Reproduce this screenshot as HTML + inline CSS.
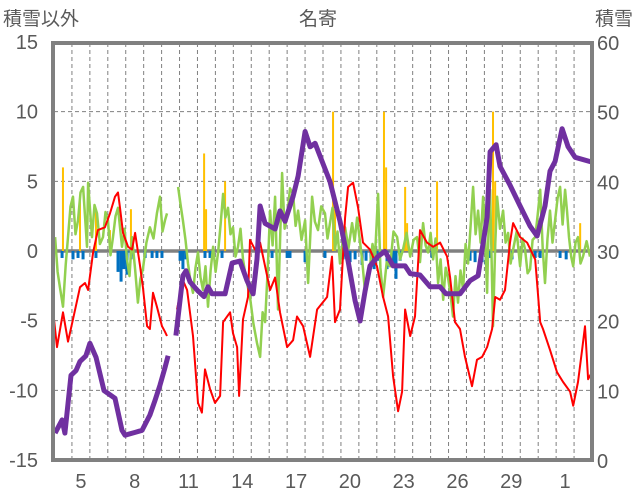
<!DOCTYPE html>
<html><head><meta charset="utf-8"><style>
body{margin:0;background:#fff;}
svg{display:block;font-family:"Liberation Sans","Noto Sans CJK JP",sans-serif;}
</style></head><body>
<svg id="c" width="636" height="501"></svg>
<script>
const tempT=[0,0.17,0.5,0.78,1.06,1.45,1.73,1.9,2.18,2.45,2.84,3.12,3.4,3.57,3.68,3.85,4.13,4.35,4.52,4.8,4.96,5.19,5.35,5.52,5.74,6.02,6.19,6.3,null,6.86,7.19,7.42,7.75,8.03,8.25,8.42,8.7,8.98,9.26,9.43,9.82,9.98,10.21,10.32,10.54,10.82,10.93,11.21,11.49,12.05,12.33,12.6,13,13.33,13.55,13.89,14.28,14.67,15.23,15.5,15.67,15.95,16.23,16.4,16.68,16.96,17.23,17.62,18.01,18.35,18.63,18.91,19.19,19.41,19.58,19.86,20.13,20.41,20.8,21.14,21.53,21.92,22.09,22.36,22.64,22.92,23.31,23.59,23.87,24.15,24.43,24.6,24.87,25.15,25.43,25.6,25.99,26.38,26.83,27.11,27.27,27.66,28.05,28.39,28.78,28.95,29.22,29.45,29.61,29.78,30];
const tempV=[-4.9,-6.9,-4.4,-6.5,-4.9,-2.6,-2.3,-2.8,-0.1,1.5,1.7,2.7,3.9,4.2,3.1,1.3,0.3,0.1,1.3,-1.1,-2.6,-5.4,-5.6,-3,-4,-5.4,-5.8,-6.1,null,-4.2,-2.1,-2.8,-6.1,-10.9,-11.6,-8.5,-9.9,-10.9,-10.4,-5.1,-4.4,-5.9,-6.9,-10.4,-4.9,-3.3,0.8,0.1,0.6,-2.8,-1.9,-4.4,-6.9,-6.4,-4.7,-5.4,-7.6,-4.2,-3.3,-0.4,-5.1,-4.2,2.4,4.6,4.9,3.1,0.6,0.1,-1.1,-3.3,-4.7,-9,-11.5,-10.1,-4.2,-6.1,-4.7,1.5,0.6,0.3,0.6,-0.4,-1.9,-5.1,-5.6,-7.6,-9.7,-7.8,-7.6,-6.9,-5.6,-3.3,-3.5,-2.8,0.6,2,1,0.6,-0.6,-5.1,-5.6,-7.1,-8.7,-9.4,-10.1,-11.1,-9.4,-7.1,-5.4,-9.2,-8.7];
const windT=[0.06,0.2,0.33,0.5,0.65,0.78,0.92,1.06,1.2,1.34,1.48,1.62,1.84,1.9,2.12,2.26,2.4,2.56,2.73,2.87,3.01,3.15,3.29,3.43,3.57,3.79,3.93,4.07,4.21,4.35,4.52,4.68,4.82,4.96,5.15,5.35,5.55,5.74,5.91,6.05,6.19,6.3,null,6.92,7.05,7.19,7.33,7.47,7.61,7.75,7.89,8.03,8.17,8.31,8.45,8.59,8.73,8.87,9.01,9.15,9.29,9.43,9.56,9.7,9.84,9.98,10.12,10.26,10.4,10.54,10.73,10.93,11.12,11.32,11.49,11.63,11.77,11.91,12.05,12.19,12.33,12.49,12.72,12.86,13,13.16,13.33,13.47,13.61,13.8,14,14.17,14.39,14.55,14.72,14.9,15.11,15.25,15.39,15.53,15.67,15.81,15.95,16.09,16.23,16.42,16.62,16.76,16.9,17.04,17.18,17.35,17.48,17.62,17.76,17.9,18.07,18.2,18.35,18.55,18.74,18.93,19.13,19.3,19.46,19.66,19.86,20.05,20.24,20.41,20.58,20.72,20.86,21,21.14,21.28,21.42,21.56,21.7,21.84,21.97,22.11,22.25,22.39,22.53,22.67,22.81,22.95,23.09,23.23,23.37,23.51,23.65,23.79,23.93,24.04,24.15,24.24,24.32,24.4,24.48,24.6,24.71,24.87,25.04,25.18,25.32,25.46,25.6,25.8,25.99,26.13,26.27,26.41,26.55,26.69,26.83,26.97,27.11,27.25,27.38,27.52,27.66,27.8,27.94,28.08,28.22,28.36,28.5,28.61,28.72,28.84,28.95,29.08,29.22,29.36,29.5,29.7,29.89];
const windV=[1,-1.5,-2.6,-4,-1,1,3.2,3.9,1.2,2.2,4.2,4.6,0.3,4.9,1,3.3,2.7,0.5,1,2.8,2.2,-0.3,1,2.5,3.1,0.3,1.6,-0.6,-1.8,1,-1.3,-3.7,-2,-1.3,0.6,1.7,0.9,2.7,3.9,1.4,2.2,2.7,null,4.6,3.4,2.2,0.8,-0.9,-2.2,-3,-1.2,-0.1,-1.9,-2.8,-1.1,-4,-1.4,0.3,-1.5,-0.1,1.9,4.1,2.4,3.1,1.2,1.7,-0.4,0.3,1.6,-0.6,-2.1,-3.3,-5.2,-6.6,-7.6,-4.4,-5.1,-1.5,2.9,0.4,3.9,-4.2,5.6,1.6,2.4,4.5,4.1,1.8,2.9,0.8,2.2,-2.3,3.9,2.1,1.5,3.2,2.7,0.9,2,3.1,0.1,1.4,-0.9,0.6,1.7,0.2,2,0.7,2.4,0.9,-0.6,-3,-1.6,-1.1,0.5,-0.4,4.1,-1.2,-3.3,-0.8,-1.1,1.4,1,-0.6,0.1,1.3,-0.4,0.8,1,-0.8,2,0.4,-0.1,1.3,-0.6,0.9,-2.3,-0.6,-3.5,-1.2,-1.9,-3.1,-4.7,-1.8,-3.7,-1.4,-2.8,0.5,-0.9,1.8,4.6,1.2,2.9,0.6,3.9,1.1,-3,2.1,4.4,-0.6,-5.4,0.4,3.9,1.6,2.9,0.6,1.3,-0.9,0.1,1.4,-1.1,0.9,0.1,-1.6,-1.3,0.8,1,2.6,4.4,0.2,-2.3,0.9,2.9,0.6,2.2,3.8,4.6,1.9,4.4,2.8,1,-0.4,-1.1,0.6,1,-0.9,-0.4,0.7,-0.4];
const snowT=[0.06,0.45,0.61,0.95,1.23,1.45,1.78,2.0,2.34,2.79,3.4,3.79,3.96,4.52,4.91,5.35,5.63,5.91,6.19,6.36,null,6.8,7.19,7.36,7.59,8.03,8.37,8.59,8.81,9.54,9.93,10.37,10.76,11.1,11.32,11.49,11.77,12.33,12.6,12.88,13.33,13.61,14.0,14.28,14.56,14.95,15.39,15.95,16.4,16.79,17.07,17.35,17.62,18.07,18.46,18.91,19.58,19.86,20.41,20.97,21.53,21.86,22.64,23.2,23.65,24.15,24.32,24.65,24.87,25.43,25.99,26.55,26.94,27.38,27.66,27.94,28.33,28.67,29.06,30];
const snowV=[4,5.9,4,12.3,13,14.3,15.1,16.9,14.9,10.1,9,4.4,3.7,4.1,4.4,6.6,8.7,10.9,13.4,15.1,null,18,26.6,27.3,25.7,24.4,23.6,25,24,24,28.4,28.7,25.9,24,29,36.6,34.1,33.3,35.9,34.4,38,40.9,47.3,45.1,45.6,43,40.1,34.4,28.7,23,20.1,24.4,28,29.4,30.1,28,28,26.9,26.7,25,25,24,24,25.9,26.6,35,44.4,45.4,42.3,39.6,36.6,33.7,32.3,36.6,41.6,43,47.7,45.1,43.6,42.9];
const precipT=[0.5,1.45,2.34,3.12,4.29,8.37,8.48,9.54,15.56,15.67,18.4,18.52,19.58,19.69,21.36,24.48,24.6,29.34];
const precipV=[6,4,3,1.5,3,7,3,5,10,3,10,6,4.6,2,5,10,5,2];
const meltT=[0.45,1.06,1.34,1.62,2.34,3.57,3.74,3.9,4.07,4.29,5.08,5.47,5.74,6.02,7.03,7.19,7.36,8.42,8.7,9.37,12.16,13,13.16,14,15.11,16.12,16.51,16.79,17.18,17.4,17.68,17.85,18.07,18.57,18.91,19.07,19.3,21.08,23.2,23.48,23.87,24.09,24.32,25.54,26.83,27.11,28.22,28.56];
const meltV=[-0.5,-0.6,-0.5,-0.6,-0.5,-1.5,-2.2,-1.3,-1.7,-0.6,-0.5,-0.5,-0.5,-0.5,-0.7,-1.3,-0.6,-0.5,-0.5,-0.5,-0.5,-0.5,-0.5,-0.8,-0.5,-0.6,-0.8,-0.6,-1,-0.7,-1,-1.3,-0.7,-1.3,-1.2,-2,-0.7,-0.5,-0.7,-0.8,-0.8,-1,-0.5,-0.6,-0.5,-0.5,-0.5,-0.6];
const leftTicks=[15,10,5,0,-5,-10,-15];
const rightTicks=[60,50,40,30,20,10,0];
const dayLabels=["5","8","11","14","17","20","23","26","29","1"];
const labelDay=[1,4,7,10,13,16,19,22,25,28];

const NS="http://www.w3.org/2000/svg";
const svg=document.getElementById('c');
const X0=54,X1=592,Y0=43,Y1=461,DAYS=30;
const xs=t=>X0+t*(X1-X0)/DAYS;
const yl=v=>251-v*(Y1-Y0)/30;
const yr=v=>Y1-v*(Y1-Y0)/60;
function mk(tag,attrs){const e=document.createElementNS(NS,tag);for(const k in attrs)e.setAttribute(k,attrs[k]);svg.appendChild(e);return e;}
for(const v of leftTicks){ if(v===15||v===-15||v===0)continue;
 const g=mk('line',{x1:X0,x2:X1,y1:yl(v),y2:yl(v),stroke:'#808080','stroke-width':1,'stroke-dasharray':'4,3'});
 
 }
for(let d=1;d<DAYS;d++){
 const g=mk('line',{x1:xs(d),x2:xs(d),y1:Y0,y2:Y1,stroke:'#808080','stroke-width':1,'stroke-dasharray':'4,3'});
 
 }
const z=mk('line',{x1:X0,x2:X1,y1:yl(0),y2:yl(0),stroke:'#808080','stroke-width':3.5});


precipT.forEach((t,i)=>{const b=mk('rect',{x:xs(t)-1,y:yl(precipV[i]),width:2,height:yl(0)-yl(precipV[i]),fill:'#ffc000'});
 
 });
meltT.forEach((t,i)=>{const b=mk('rect',{x:xs(t)-1.5,y:yl(0),width:3,height:yl(meltV[i])-yl(0),fill:'#0070c0'});
 
 });
function path(T,V,sy){let d='',pen=false;T.forEach((t,i)=>{if(t===null||V[i]===null){pen=false;return;}d+=(pen?'L':'M')+xs(t).toFixed(1)+','+sy(V[i]).toFixed(1);pen=true;});return d;}
const gw=mk('path',{d:path(windT,windV,yl),fill:'none',stroke:'#92d050','stroke-width':2.5,'stroke-linejoin':'round'});


const rt=mk('path',{d:path(tempT,tempV,yl),fill:'none',stroke:'#ff0000','stroke-width':2,'stroke-linejoin':'round'});


const ps=mk('path',{d:path(snowT,snowV,yr),fill:'none',stroke:'#7030a0','stroke-width':5,'stroke-linejoin':'round'});


const fr=mk('rect',{x:X0-1,y:Y0,width:X1-X0+1,height:Y1-Y0-1,fill:'none',stroke:'#808080','stroke-width':4});


leftTicks.forEach(v=>{const t=mk('text',{x:38,y:yl(v)+7,'text-anchor':'end','font-size':20,fill:'#595959'});t.textContent=v;
 
 });
rightTicks.forEach(v=>{const t=mk('text',{x:597,y:yr(v)+7,'font-size':20,fill:'#595959'});t.textContent=v;
 
 });
dayLabels.forEach((s,i)=>{const t=mk('text',{x:xs(labelDay[i]+0.5),y:488,'text-anchor':'middle','font-size':20,fill:'#595959'});t.textContent=s;
 
 });
const lt=mk('text',{x:3,y:25,'font-size':19,fill:'#595959'});lt.textContent='積雪以外';


const ct=mk('text',{x:318,y:25,'text-anchor':'middle','font-size':19,fill:'#595959'});ct.textContent='名寄';


const rtt=mk('text',{x:633,y:25,'text-anchor':'end','font-size':19,fill:'#595959'});rtt.textContent='積雪';


</script>
</body></html>
